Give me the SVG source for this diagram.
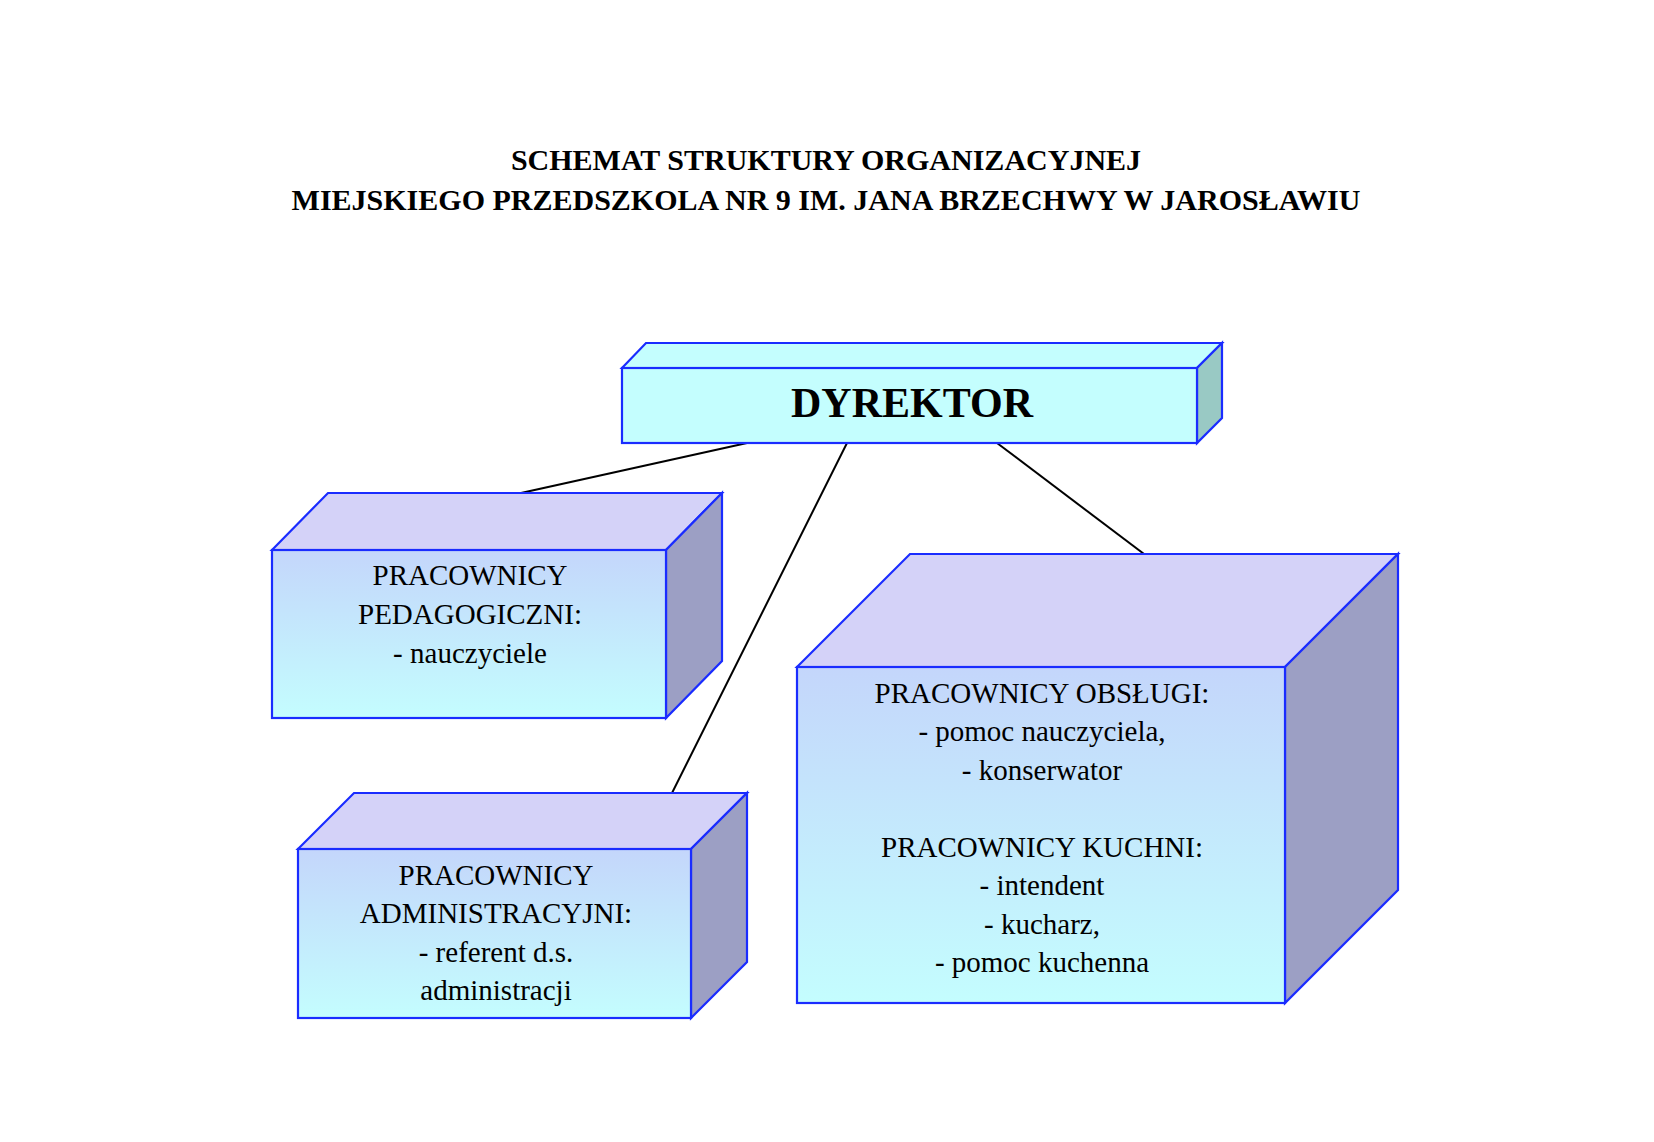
<svg xmlns="http://www.w3.org/2000/svg" width="1654" height="1142" viewBox="0 0 1654 1142">
<style>
.e{stroke:#1a2cff;stroke-width:2.2;stroke-linejoin:miter}
.top{fill:#d4d2f8}.side{fill:#9c9fc4}.dside{fill:#99c9c4}
.t{font-family:"Liberation Serif",serif;font-size:29px;text-anchor:middle;fill:#000}
.h{font-family:"Liberation Serif",serif;font-weight:bold;text-anchor:middle;fill:#000}
.c{stroke:#000;stroke-width:2;fill:none}
</style>
<defs>
<linearGradient id="g" x1="0" y1="0" x2="0" y2="1"><stop offset="0" stop-color="#c4d6fb"/><stop offset="1" stop-color="#c4fdfe"/></linearGradient>
</defs>
<rect width="1654" height="1142" fill="#fff"/>
<text class="h" font-size="30" x="826" y="170">SCHEMAT STRUKTURY ORGANIZACYJNEJ</text>
<text class="h" font-size="30" x="826" y="210">MIEJSKIEGO PRZEDSZKOLA NR 9 IM. JANA BRZECHWY W JAROSŁAWIU</text>
<g id="connectors">
<line class="c" x1="747" y1="443" x2="521" y2="493"/>
<line class="c" x1="847" y1="443" x2="672" y2="793"/>
<line class="c" x1="997" y1="443" x2="1197" y2="594"/>
</g>
<g id="dyrektor">
<polygon class="e" fill="#c4fefe" points="622,368 646,343 1222,343 1197,368"/>
<polygon class="e dside" points="1197,368 1222,343 1222,418 1197,443"/>
<rect class="e" fill="#c4fefe" x="622" y="368" width="575" height="75"/>
<text class="h" font-size="42" x="912" y="417">DYREKTOR</text>
</g>
<g id="pedagogiczni">
<polygon class="e top" points="272,550 328,493 722,493 666,550"/>
<polygon class="e side" points="666,550 722,493 722,661 666,718"/>
<rect class="e" fill="url(#g)" x="272" y="550" width="394" height="168"/>
<text class="t" x="470" y="585">PRACOWNICY</text>
<text class="t" x="470" y="624">PEDAGOGICZNI:</text>
<text class="t" x="470" y="663">- nauczyciele</text>
</g>
<g id="administracyjni">
<polygon class="e top" points="298,849 354,793 747,793 691,849"/>
<polygon class="e side" points="691,849 747,793 747,962 691,1018"/>
<rect class="e" fill="url(#g)" x="298" y="849" width="393" height="169"/>
<text class="t" x="496" y="885">PRACOWNICY</text>
<text class="t" x="496" y="923">ADMINISTRACYJNI:</text>
<text class="t" x="496" y="962">- referent d.s.</text>
<text class="t" x="496" y="1000">administracji</text>
</g>
<g id="obslugi">
<polygon class="e top" points="797,667 910,554 1398,554 1285,667"/>
<polygon class="e side" points="1285,667 1398,554 1398,890 1285,1003"/>
<rect class="e" fill="url(#g)" x="797" y="667" width="488" height="336"/>
<text class="t" x="1042" y="703">PRACOWNICY OBSŁUGI:</text>
<text class="t" x="1042" y="741">- pomoc nauczyciela,</text>
<text class="t" x="1042" y="780">- konserwator</text>
<text class="t" x="1042" y="857">PRACOWNICY KUCHNI:</text>
<text class="t" x="1042" y="895">- intendent</text>
<text class="t" x="1042" y="934">- kucharz,</text>
<text class="t" x="1042" y="972">- pomoc kuchenna</text>
</g>
</svg>
